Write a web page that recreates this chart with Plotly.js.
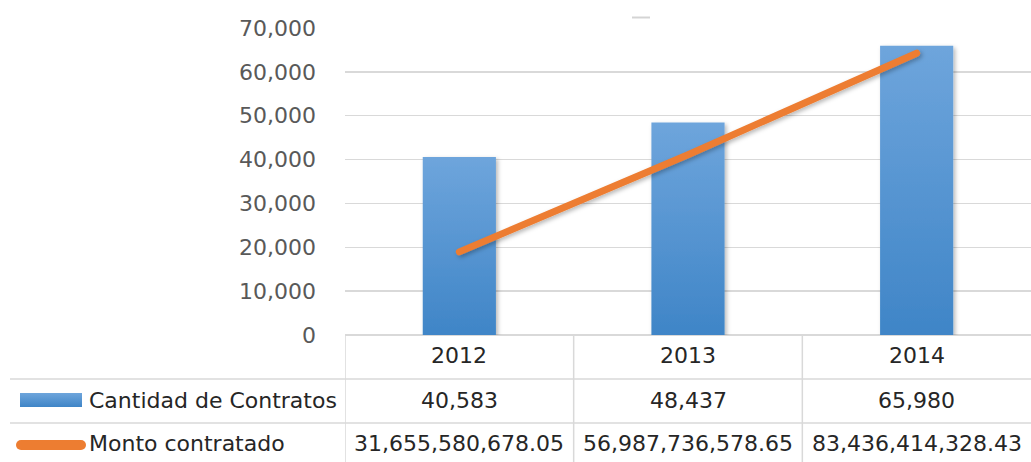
<!DOCTYPE html>
<html>
<head>
<meta charset="utf-8">
<script src="https://cdn.plot.ly/plotly-3.0.1.min.js"></script>
<style>
  html, body { margin: 0; padding: 0; background: #ffffff; }
  #chart { width: 1031px; height: 462px; }
</style>
</head>
<body>
<div id="chart"></div>
<script>
// ---- Data ----
const years = ['2012', '2013', '2014'];
const contratos = [40583, 48437, 65980];
const montos = [31655580678.05, 56987736578.65, 83436414328.43];
const seriesNames = ['Cantidad de Contratos', 'Monto contratado'];

// ---- Geometry helpers ----
const W = 1031, H = 462, L = 345, R = 0, T = 28, B = 127;
const px = x => (x - L) / (W - L - R);
const py = y => (H - B - y) / (H - T - B);

const FONT = 'DejaVu Sans, Liberation Sans, sans-serif';
const txtColor = '#262626';
const gridColor = '#d9d9d9';
const blue = '#5596d6';
const orange = '#ED7D31';

const fmtInt = v => v.toLocaleString('en-US');
const fmtMoney = v => v.toLocaleString('en-US', {minimumFractionDigits: 2, maximumFractionDigits: 2});

const traces = [
  {
    type: 'bar',
    name: seriesNames[0],
    x: years,
    y: contratos,
    width: 0.32,
    marker: {color: blue, line: {width: 0}},
    hoverinfo: 'skip'
  },
  {
    type: 'scatter',
    mode: 'lines',
    name: seriesNames[1],
    x: years,
    y: montos,
    yaxis: 'y2',
    line: {color: orange, width: 7},
    hoverinfo: 'skip'
  }
];

const rowY = [355, 400, 443];   // header, row1, row2 (pixels)
const annotations = [];
years.forEach((yr, i) => {
  const cells = [yr, fmtInt(contratos[i]), fmtMoney(montos[i])];
  cells.forEach((txt, r) => {
    annotations.push({xref: 'x', yref: 'paper', x: i, y: py(rowY[r]), text: txt, showarrow: false,
      font: {family: FONT, size: 22, color: txtColor}, xanchor: 'center', yanchor: 'middle'});
  });
});
annotations.push({xref: 'paper', yref: 'paper', x: px(87), y: py(rowY[1]), text: seriesNames[0], showarrow: false,
  font: {family: FONT, size: 22, color: txtColor}, xanchor: 'left', yanchor: 'middle'});
annotations.push({xref: 'paper', yref: 'paper', x: px(87), y: py(rowY[2]), text: seriesNames[1], showarrow: false,
  font: {family: FONT, size: 22, color: txtColor}, xanchor: 'left', yanchor: 'middle'});

const tableLine = {color: gridColor, width: 1.5};
const shapes = [
  // horizontal row separators
  {type: 'line', xref: 'paper', yref: 'paper', x0: px(10), x1: 1, y0: py(379), y1: py(379), line: tableLine, layer: 'below'},
  {type: 'line', xref: 'paper', yref: 'paper', x0: px(10), x1: 1, y0: py(423), y1: py(423), line: tableLine, layer: 'below'},
  // legend keys
  {type: 'rect', xref: 'paper', yref: 'paper', x0: px(20), x1: px(82), y0: py(393), y1: py(407),
    fillcolor: blue, line: {width: 0}},
  {type: 'line', xref: 'paper', yref: 'paper', x0: px(21), x1: px(81), y0: py(445), y1: py(445),
    line: {color: orange, width: 10}},
  // small title placeholder dash
  {type: 'line', xref: 'paper', yref: 'paper', x0: px(632), x1: px(650), y0: py(17.5), y1: py(17.5),
    line: {color: '#d4d4d4', width: 2}}
];
// vertical column separators at category boundaries
[-0.5, 0.5, 1.5].forEach(xv => {
  shapes.push({type: 'line', xref: 'x', yref: 'paper', x0: xv, x1: xv, y0: 0, y1: py(H), line: tableLine, layer: 'below'});
});

const layout = {
  width: W, height: H,
  margin: {l: L, r: R, t: T, b: B, pad: 0},
  paper_bgcolor: '#ffffff',
  plot_bgcolor: '#ffffff',
  showlegend: false,
  xaxis: {
    type: 'category',
    range: [-0.5, 2.5],
    showticklabels: false,
    showgrid: false,
    zeroline: false,
    showline: false,
    ticks: ''
  },
  yaxis: {
    range: [0, 70000],
    dtick: 10000,
    tickformat: ',d',
    showgrid: true,
    gridcolor: gridColor,
    gridwidth: 1.5,
    zeroline: true,
    zerolinecolor: gridColor,
    zerolinewidth: 2,
    showline: false,
    ticks: '',
    ticklabelstandoff: 28,
    tickfont: {family: FONT, size: 22, color: '#595959'}
  },
  yaxis2: {
    overlaying: 'y',
    range: [1e10, 9e10],
    visible: false
  },
  annotations: annotations,
  shapes: shapes
};

Plotly.newPlot('chart', traces, layout, {staticPlot: true, displayModeBar: false}).then(gd => {
  const svg = gd.querySelector('svg.main-svg');
  const ns = 'http://www.w3.org/2000/svg';
  const defs = document.createElementNS(ns, 'defs');
  defs.innerHTML =
    '<linearGradient id="bargrad" x1="0" y1="0" x2="0" y2="1">' +
    '<stop offset="0" stop-color="#6ea5dc"/><stop offset="1" stop-color="#3f85c7"/></linearGradient>' +
    '<filter id="shadow" x="-20%" y="-20%" width="140%" height="140%">' +
    '<feDropShadow dx="2" dy="2" stdDeviation="2" flood-color="#000" flood-opacity="0.28"/></filter>';
  svg.insertBefore(defs, svg.firstChild);
  gd.querySelectorAll('.barlayer .point path').forEach(p => {
    p.style.fill = 'url(#bargrad)';
    p.setAttribute('filter', 'url(#shadow)');
  });
  gd.querySelectorAll('.scatterlayer .js-line').forEach(p => {
    p.style.strokeLinecap = 'round';
    p.setAttribute('filter', 'url(#shadow)');
  });
  gd.querySelectorAll('.shapelayer path').forEach(p => {
    const s = p.style.stroke || '';
    if (s.replace(/\s/g, '') === 'rgb(237,125,49)') p.style.strokeLinecap = 'round';
    const f = p.style.fill || '';
    if (f.replace(/\s/g, '') === 'rgb(85,150,214)') p.style.fill = 'url(#bargrad)';
  });
});
</script>
</body>
</html>
